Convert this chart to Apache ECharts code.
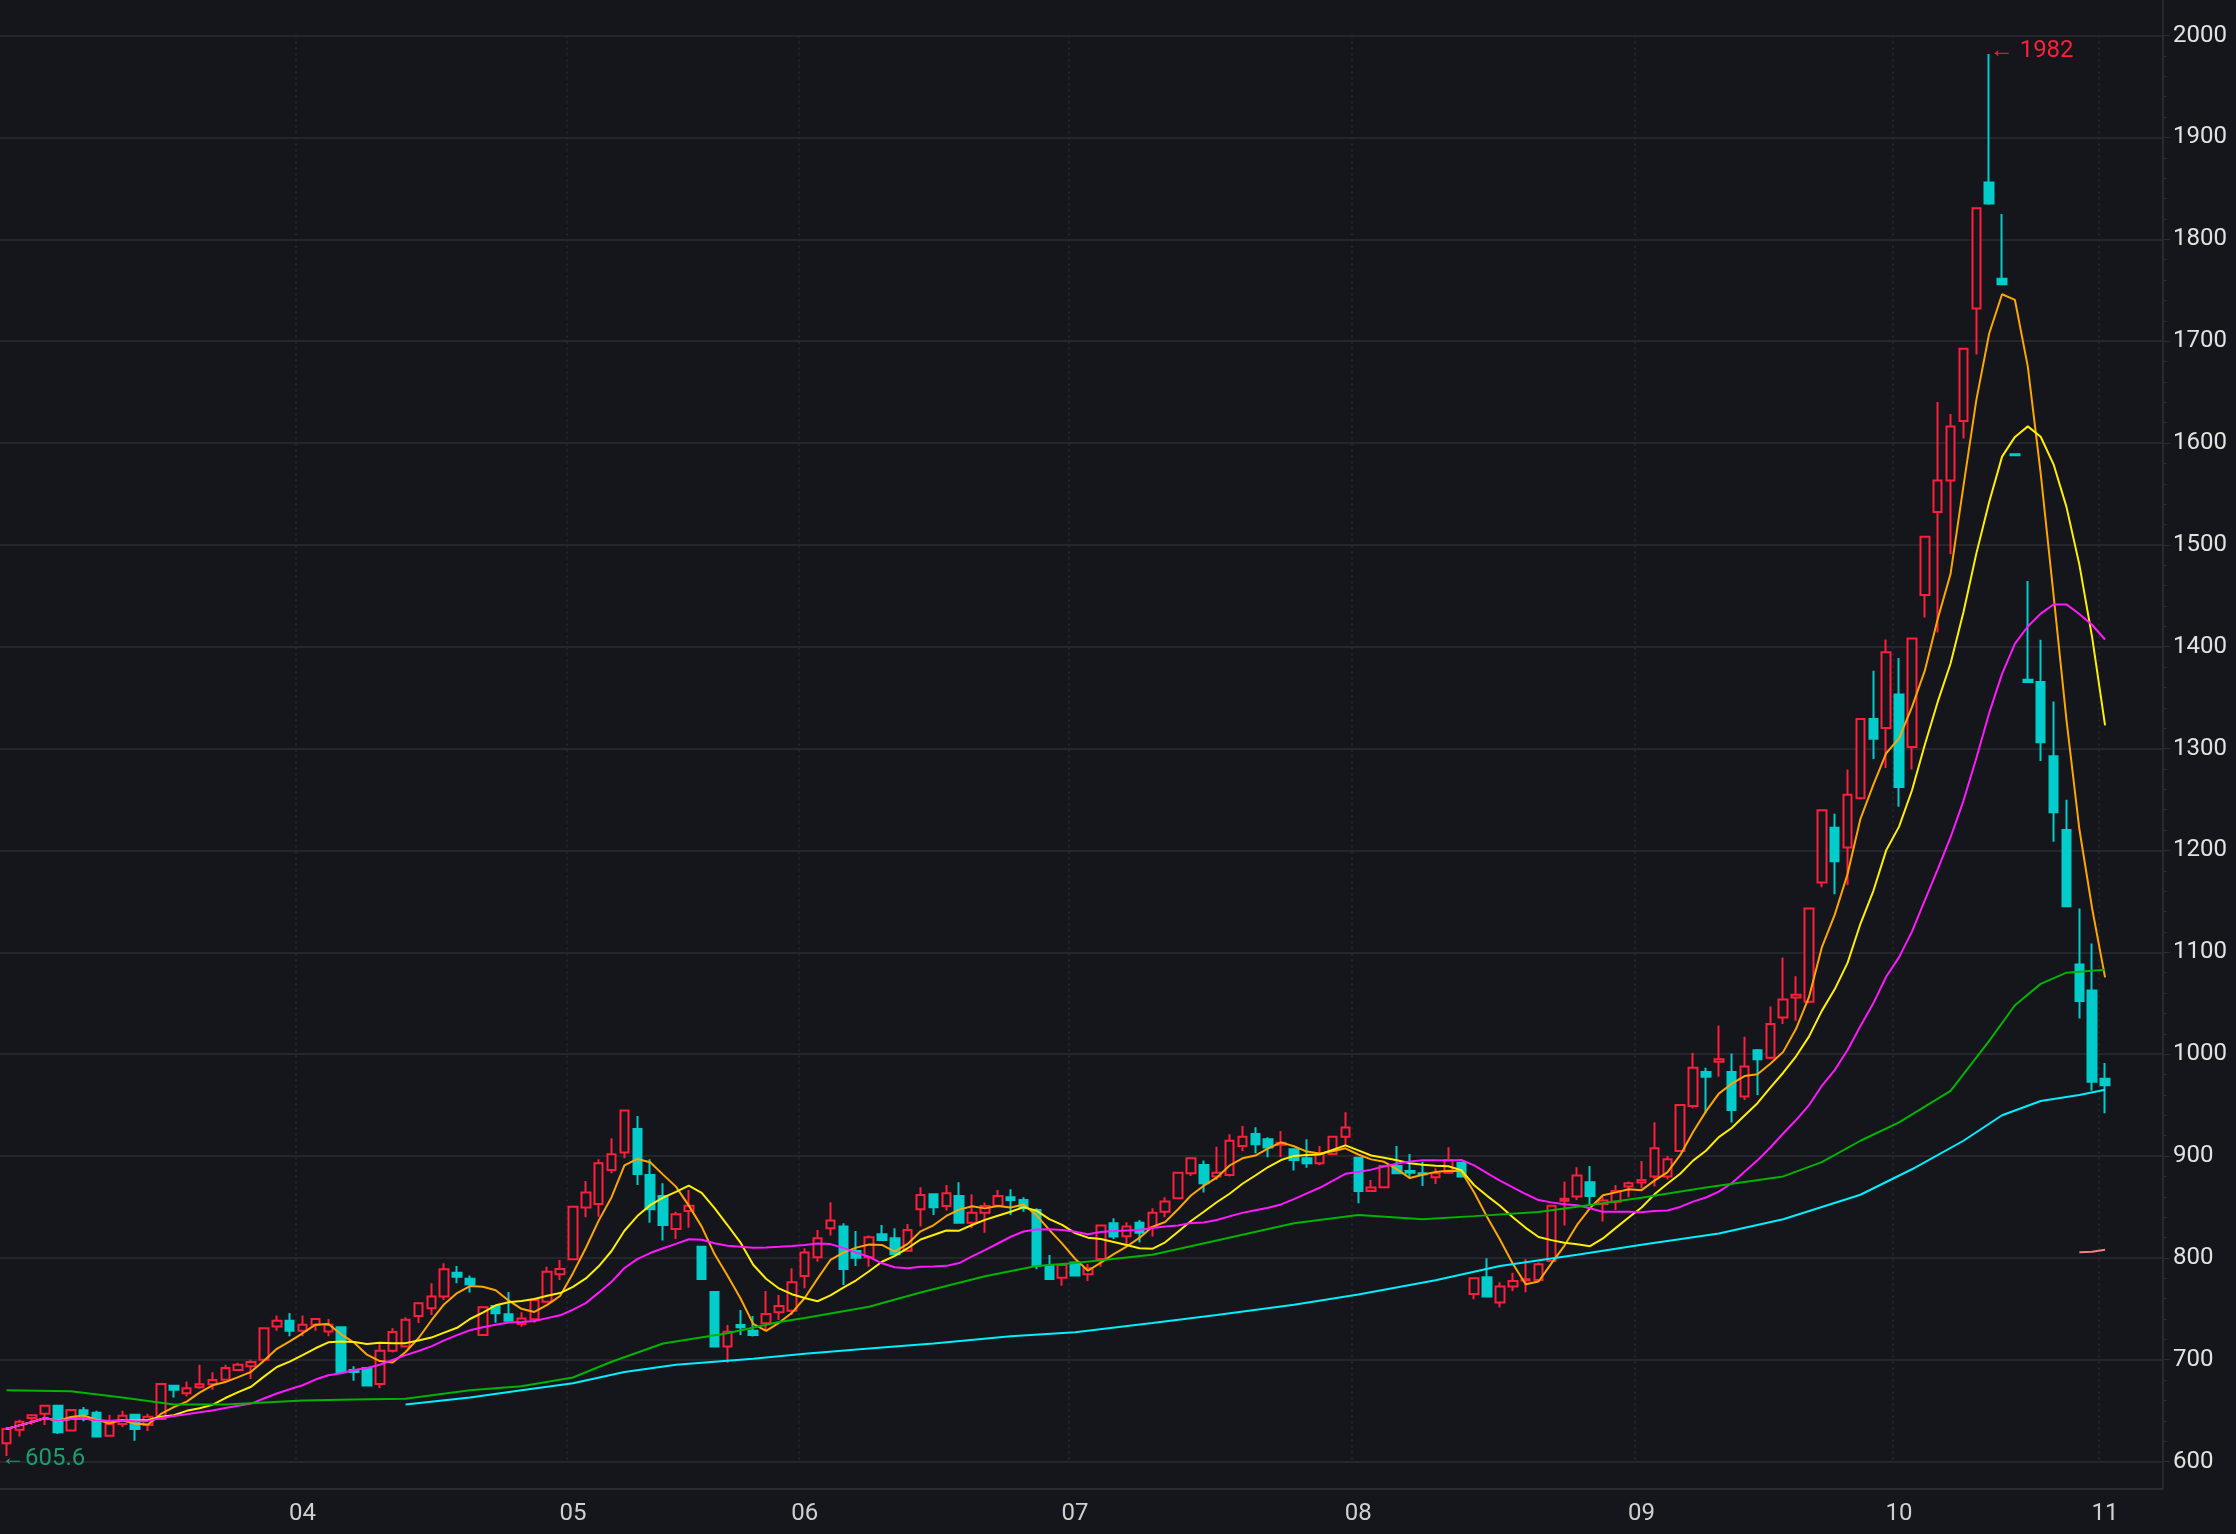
<!DOCTYPE html>
<html><head><meta charset="utf-8">
<script src="https://cdn.jsdelivr.net/npm/echarts@6/dist/echarts.min.js"></script>
<style>html,body{margin:0;padding:0;background:#14161b;}#c{width:2236px;height:1534px;}</style>
</head><body><div id="c"></div>
<script>
// candles from index k=-1 (partially visible) to 162: [open, close, low, high]
const candles = [
[618,632,605.6,634],[631.3,639.1,624.7,641],[642.7,645.4,636.2,645.4],[647,654.8,636,654.8],[654.8,628.7,627,654.8],
[630.6,650.6,630,650.6],[650.3,646.7,639.5,653.5],[648,624.7,623.7,650],[625.4,636.8,625,646],[637,645,634,650],
[646,632,620.5,647],[636,644,630,647],[641.8,676.1,641,676.5],[674.5,670.5,663,675],[667,672,664,678.7],
[673,676,671.5,695],[676,680,670.5,687.6],[680.4,691.8,679.4,695],[690,695,689,697],[693.5,697.7,681,700],
[700,731,699,731.3],[732.7,738.3,728.5,743.5],[738.3,728.5,723,746],[728.5,734.4,723,743.5],[734.4,740,728.5,740.3],
[727.8,734.4,723,740],[731.8,687.6,687,732],[690,688,679.4,693.5],[691.8,674.8,674,692],[676.1,708.8,672.2,715.4],
[708.8,727.2,707,731],[713,739.3,712,741.6],[743,755.4,736,756],[750.5,762,744,775],[762,788.8,758.7,794.7],
[785.5,781.6,775,792],[779.6,774,766,782.6],[724.3,751.5,723.7,752],[752.8,745.6,736.4,753],[744.6,738.4,738,766.5],
[735.1,740.4,732.5,746.6],[739.7,758.7,736.4,760.3],[757,786.5,756,791.4],[783.9,789.1,778.3,798],[798.6,850.3,798,850.5],
[849.4,864.1,839.9,875.5],[853,892.9,840.5,896.8],[886.3,901.7,883,917.4],[903.4,944.6,897.8,945],[926.6,882.4,871.6,939.4],
[881.4,847.7,834.6,896.8],[860.8,832.3,817,873.2],[828.4,842.8,818.6,845.4],[846.1,851.3,829.7,866.7],[811,779.3,779,811],
[766.5,712.9,712,767],[712.9,727.6,697,734.1],[734.1,731.8,724.3,748.9],[728.5,724.3,722.7,743],[735.8,744.9,729.2,767.5],
[746.6,752.8,739,763.6],[748.2,776,744,789.8],[782.3,805.2,770.2,809.4],[800.6,819.2,796.3,827.4],[829,836.6,821.9,854.6],
[830.7,789.1,773.4,834],[806.8,800.2,792,826.4],[800.6,820.2,791.4,821.9],[823.2,817.6,816.6,832.3],[819.2,803.5,802.9,829],
[807.1,827.4,806.5,833.3],[847.7,861.8,830.7,869.3],[862.4,849.7,842.1,862.5],[851,863.4,846.4,871.6],[860.8,834.6,834,874.2],
[834.6,844.4,829,862.4],[844.4,851,824.8,854.3],[851.3,860.8,850.3,866.7],[859.5,856.9,842.1,867.3],[856.9,848.7,845.4,859.5],
[847.1,792.1,788.8,848.7],[792.4,779.3,778.3,802.9],[780.6,793.1,772.7,793.5],[795.4,782.6,782,796],[783.9,789.8,777.4,794],
[799,831.7,791.4,832],[834,820.9,818.6,838.9],[821.2,830.7,813.7,835],[834.6,824.8,815,837.2],[830,844.4,820.9,848.7],
[845.4,855.4,839.9,859.5],[858.5,883.7,858,884],[883.1,897.8,880.4,898.8],[891.2,873.2,864.1,895.5],[879.8,883.7,876.5,909.2],
[881.4,915.1,879.8,921.3],[909.9,919,905,929.5],[921.7,911.5,902.7,928.2],[916.4,908.3,898.8,918.4],[911,913,898.8,924.6],
[906.6,896.1,885.7,907],[897.8,892.9,888.6,916.4],[892.9,902,891.2,909.9],[902,919,901,919.7],[919,927.9,910.9,943],
[898.4,865.7,853.6,898.8],[865.7,869,865,876.5],[869.3,890.2,869,891.2],[890.2,883.1,882.4,909.9],[885.4,883.7,879.1,902],
[883,882,870.6,894.5],[879.1,883.1,872.6,888],[883.7,896.1,883,908.6],[893.5,880,879.8,894.5],[764.6,780,759.3,780],
[781,762,761.3,799.6],[756.1,771.8,751.2,776],[771.8,777.4,767.5,785.5],[777.7,779,766.2,799],[778.3,793.7,777.4,795.7],
[797,851.3,796.3,851.5],[856,858,831.7,874.9],[860.2,880.8,856.9,889],[874.2,860.8,852,890.2],[853,856.3,835.6,860],
[855.2,865.7,847,871.6],[870,873.2,859.5,874.9],[873.9,876.5,868.3,895.2],[879.8,907.6,870,933.1],[879.8,896.8,877,900],
[905,950.2,904,951.1],[949,986.7,947,1001.4],[982.6,977.8,942,986.7],[992.6,995,977.8,1028.2],[982.6,945.2,932.8,1000.6],
[958.4,988,955,1017],[1003.9,995,960,1005],[996.4,1029.5,995,1046.7],[1036,1053.6,1029.5,1094.8],[1055.6,1058.4,1032.9,1076.4],
[1051.5,1143,1050,1143],[1168.6,1239.5,1164,1239.5],[1222.3,1189.3,1157,1236],[1203,1254.6,1166,1279.4],[1251.2,1329,1250,1329],
[1329,1309.7,1289.9,1376.5],[1320.3,1394.6,1281,1407],[1353.1,1262.2,1243,1389],[1301.5,1408.2,1279.4,1408.2],[1450.8,1508,1428.7,1508],
[1532.2,1563.2,1413.9,1640.4],[1563.2,1616.2,1490.9,1628.6],[1621.7,1692.6,1604.5,1693],[1732,1830.5,1687,1831],[1855.9,1835.2,1834,1982],
[1761.2,1756,1755.6,1824.8],[1589,1588,1588,1589],[1367.5,1365.5,1365.5,1464.6],[1365.5,1306.3,1287.8,1406.8],[1292.5,1237.4,1208.5,1346.2],
[1220.2,1145.2,1145,1249.8],[1088,1052.1,1035,1143],[1062.6,973,964,1108.7],[975.8,969.6,942,991.3]
];
const totalSlots = 168;
const monthLabels = ['04','05','06','07','08','09','10','11'];
const monthSlots = [23,44,62,83,105,127,147,163];
// long moving averages: [slot, value]
const maGreen = [[0,670],[5,669],[9,663],[13,656],[17,656],[23,660],[27,661],[31,661.6],[36,670],[40,674],[44,682.6],[47,698],[51,716],[56,726],[60,737],[62,741],[67,752],[71,766],[76,782],[80,792],[83,795],[89,803],[94,817],[100,834],[105,842],[110,838],[114,841],[119,845],[123,852],[127,859],[132,869],[138,880],[141,894],[144,915],[147,933],[151,964],[154,1013],[156,1048],[158,1069],[160,1080],[163,1083]];
const maCyan = [[31,656],[36,663],[40,670],[44,677],[48,688],[52,695],[58,701],[62,706],[67,711],[72,716],[78,723],[83,727],[89,736],[94,744],[100,754],[105,764],[111,778],[116,792],[122,803],[127,813],[133,824],[138,838],[144,862],[148,887],[152,915],[155,940],[158,954],[161,960],[163,965]];
const maPink = [[161,805.5],[162,806],[163,808]];

const categories = [];
for (let i = 0; i < totalSlots; i++) {
  const m = monthSlots.indexOf(i);
  categories.push(m >= 0 ? monthLabels[m] : '');
}
const closes = candles.map(c => c[1]);
function ma(n) {
  return closes.map((_, i) => {
    const s = Math.max(0, i - n + 1);
    let sum = 0; for (let j = s; j <= i; j++) sum += closes[j];
    return +(sum / (i - s + 1)).toFixed(2);
  });
}
const chart = echarts.init(document.getElementById('c'));
const lineBase = {type: 'line', symbol: 'none', smooth: false, silent: true, z: 3};
chart.setOption({
  backgroundColor: '#14161b',
  animation: false,
  grid: {left: -12, right: 73, top: 35.6, bottom: 72.4},
  xAxis: {
    type: 'category', data: categories, boundaryGap: true,
    axisLine: {show: false}, axisTick: {show: false},
    axisLabel: {color: '#d0d0d0', fontSize: 24, margin: 40, interval: (i) => monthSlots.includes(i), fontFamily: 'Roboto'},
    splitLine: {show: true, interval: (i) => monthSlots.includes(i), lineStyle: {color: '#2a2c33', type: [2, 4], width: 1.5}}
  },
  yAxis: {
    type: 'value', position: 'right', min: 600, max: 2000, interval: 100,
    axisLine: {show: true, lineStyle: {color: '#2a2c33', width: 1.5}},
    axisTick: {show: true, length: 7, lineStyle: {color: '#2a2c33'}},
    minorTick: {show: true, splitNumber: 5, length: 4, lineStyle: {color: '#2a2c33'}},
    axisLabel: {color: '#e2e2e2', fontSize: 24, margin: 10, fontFamily: 'Roboto', formatter: (v) => String(v)},
    splitLine: {lineStyle: {color: '#24262c', width: 2}}
  },
  graphic: [
    {type: 'line', shape: {x1: 0, y1: 1489, x2: 2163, y2: 1489}, style: {stroke: '#2a2c33', lineWidth: 2}},
    {type: 'line', shape: {x1: 2163, y1: 0, x2: 2163, y2: 1489}, style: {stroke: '#2a2c33', lineWidth: 1.5}}
  ],
  series: [
    {type: 'candlestick', data: candles, barWidth: 9, z: 2,
     itemStyle: {color: '#14161b', color0: '#00cccc', borderColor: '#ff1f3d', borderColor0: '#00cccc', borderWidth: 2},
     markPoint: {symbol: 'circle', symbolSize: 1, itemStyle: {color: 'rgba(0,0,0,0)'},
       data: [
         {coord: [154, 1985], label: {show: true, position: 'right', distance: 0, formatter: '\u2190 1982', color: '#ff1f3d', fontSize: 24, fontFamily: 'Roboto'}},
         {coord: [0, 603], label: {show: true, position: 'right', distance: -6, formatter: '\u2190605.6', color: '#1e9c6c', fontSize: 24, fontFamily: 'Roboto'}}
       ]}},
    Object.assign({}, lineBase, {data: ma(5), lineStyle: {color: '#ffa500', width: 2}}),
    Object.assign({}, lineBase, {data: ma(10), lineStyle: {color: '#ffee00', width: 2}}),
    Object.assign({}, lineBase, {data: ma(20), lineStyle: {color: '#ff1aff', width: 2}}),
    Object.assign({}, lineBase, {data: maGreen, lineStyle: {color: '#00b400', width: 2}}),
    Object.assign({}, lineBase, {data: maCyan, lineStyle: {color: '#00f0ff', width: 2}}),
    Object.assign({}, lineBase, {data: maPink, lineStyle: {color: '#f08080', width: 2}})
  ]
});
</script></body></html>
